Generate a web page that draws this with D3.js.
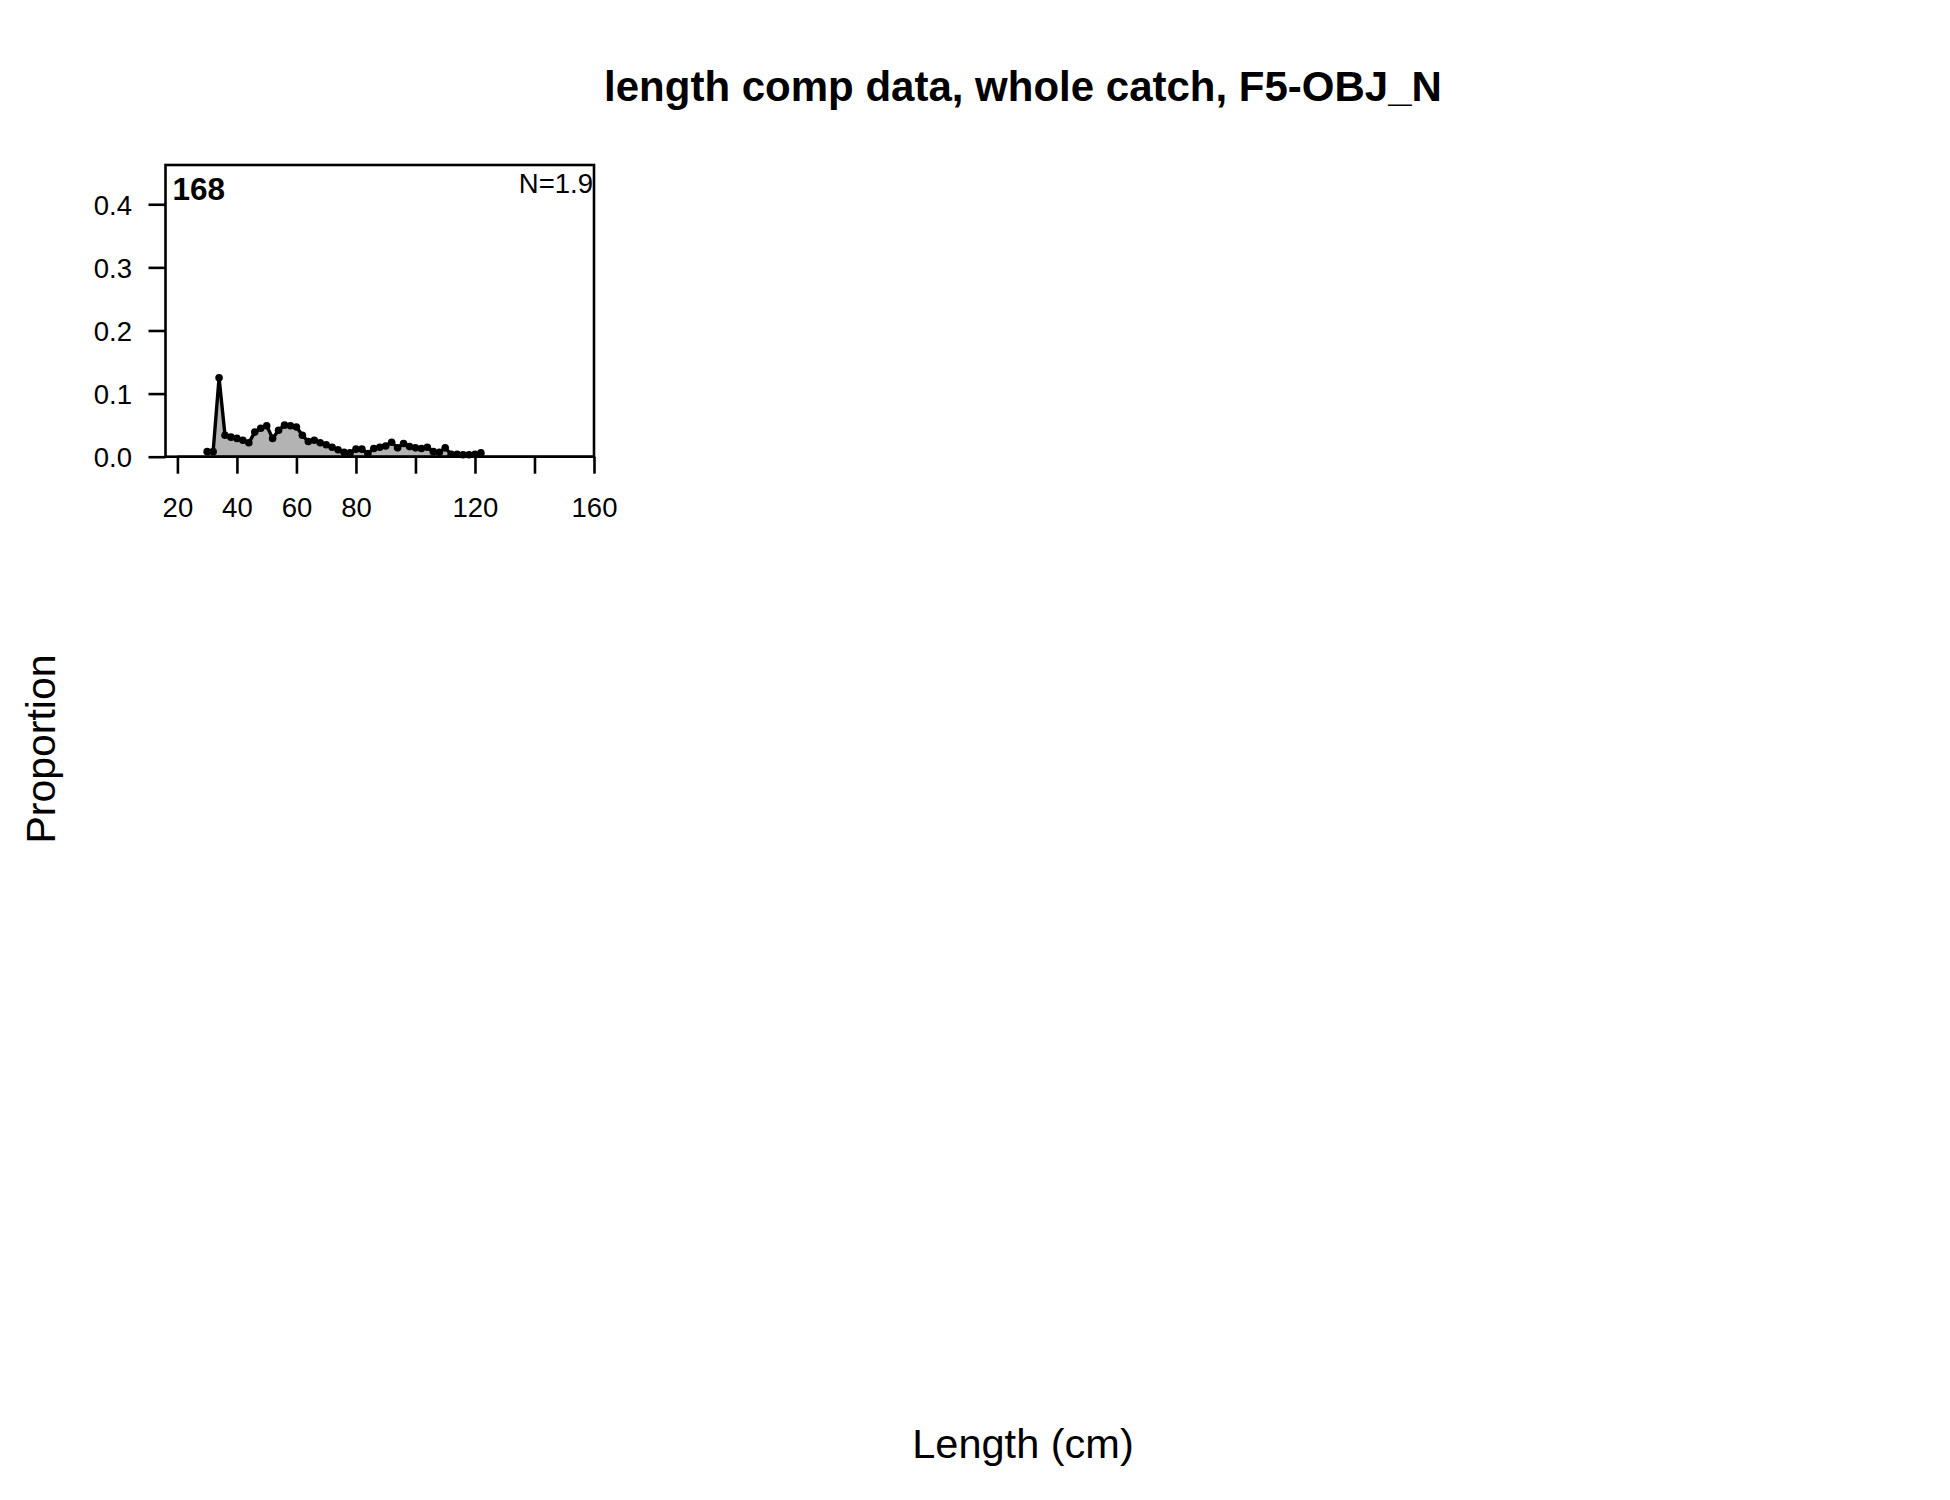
<!DOCTYPE html>
<html>
<head>
<meta charset="utf-8">
<script src="https://cdn.jsdelivr.net/npm/d3@7"></script>
<style>
  html, body { margin: 0; padding: 0; background: #fff; }
  text { font-family: "Liberation Sans", Arial, sans-serif; fill: #000; }
</style>
</head>
<body>
<svg id="chart" width="1950" height="1500"></svg>
<script>
// ---- data (2 cm length bins) ----
const lengths = [30, 32, 34, 36, 38, 40, 42, 44, 46, 48, 50, 52, 54, 56, 58, 60, 62, 64, 66, 68,
                 70, 72, 74, 76, 78, 80, 82, 84, 86, 88, 90, 92, 94, 96, 98, 100, 102, 104, 106, 108,
                 110, 112, 114, 116, 118, 120, 122];
const proportions = [0.008, 0.008, 0.125, 0.034, 0.031, 0.029, 0.026, 0.022, 0.039, 0.045,
                     0.049, 0.029, 0.042, 0.050, 0.049, 0.047, 0.034, 0.024, 0.026, 0.022,
                     0.019, 0.015, 0.011, 0.007, 0.006, 0.012, 0.012, 0.005, 0.013, 0.015,
                     0.017, 0.023, 0.014, 0.021, 0.016, 0.014, 0.013, 0.015, 0.008, 0.007,
                     0.014, 0.004, 0.004, 0.003, 0.003, 0.004, 0.006];
const xTicks = [20, 40, 60, 80, 100, 120, 140, 160];
const xTickLabels = [20, 40, 60, 80, 120, 160];
const yTicks = [0.0, 0.1, 0.2, 0.3, 0.4];
const titleText = "length comp data, whole catch, F5-OBJ_N";
const panelLabel = "168";
const nLabel = "N=1.9";
const xLabel = "Length (cm)";
const yLabel = "Proportion";

const data = lengths.map((L, i) => ({ L, p: proportions[i] }));

const svg = d3.select("#chart");
const box = { left: 165.5, right: 594, top: 165, bottom: 456.7 };

const x = d3.scaleLinear().domain([16, 160]).range([box.left, box.right]);
const y = d3.scaleLinear().domain([0, 0.4622]).range([box.bottom, box.top]);

// filled area
svg.append("path")
  .datum(data)
  .attr("fill", "#b3b3b3")
  .attr("stroke", "none")
  .attr("d", d3.area().x(d => x(d.L)).y0(y(0)).y1(d => y(d.p)));

// line
svg.append("path")
  .datum(data)
  .attr("fill", "none")
  .attr("stroke", "#000")
  .attr("stroke-width", 3.4)
  .attr("stroke-linejoin", "round")
  .attr("d", d3.line().x(d => x(d.L)).y(d => y(d.p)));

// points
svg.append("g").selectAll("circle")
  .data(data)
  .join("circle")
  .attr("cx", d => x(d.L))
  .attr("cy", d => y(d.p))
  .attr("r", 3.8)
  .attr("fill", "#000");

// box
svg.append("rect")
  .attr("x", box.left).attr("y", box.top)
  .attr("width", box.right - box.left).attr("height", box.bottom - box.top)
  .attr("fill", "none").attr("stroke", "#000").attr("stroke-width", 2.6);

// x axis
const xAxis = d3.axisBottom(x)
  .tickValues(xTicks)
  .tickSize(17)
  .tickPadding(25)
  .tickFormat(d => xTickLabels.includes(d) ? String(d) : "");
const gx = svg.append("g").attr("transform", `translate(0,${box.bottom})`).call(xAxis);
gx.select(".domain").attr("d", `M${x(20)},0H${x(160)}`).attr("stroke-width", 2.6);
gx.selectAll(".tick line").attr("stroke-width", 2.6);
gx.selectAll(".tick text")
  .attr("font-size", 27.5)
  .attr("font-family", "Liberation Sans, Arial, sans-serif")
  .attr("dy", null)
  .attr("y", 60);

// y axis
const yAxis = d3.axisLeft(y)
  .tickValues(yTicks)
  .tickSize(17)
  .tickPadding(17)
  .tickFormat(d3.format(".1f"));
const gy = svg.append("g").attr("transform", `translate(${box.left},0)`).call(yAxis);
gy.select(".domain").remove();
gy.selectAll(".tick line").attr("stroke-width", 2.6);
gy.selectAll(".tick text")
  .attr("font-size", 27.5)
  .attr("font-family", "Liberation Sans, Arial, sans-serif")
  .attr("dy", "0.36em")
  .attr("x", -33.5);

// panel labels
svg.append("text")
  .attr("x", 172.5).attr("y", 199.5)
  .attr("font-size", 31.5).attr("font-weight", "bold")
  .text(panelLabel);
svg.append("text")
  .attr("x", 593).attr("y", 192.5)
  .attr("text-anchor", "end")
  .attr("font-size", 27.5)
  .text(nLabel);

// title
svg.append("text")
  .attr("x", 1023).attr("y", 101)
  .attr("text-anchor", "middle")
  .attr("font-size", 42).attr("font-weight", "bold")
  .text(titleText);

// axis titles
svg.append("text")
  .attr("x", 1023).attr("y", 1457.5)
  .attr("text-anchor", "middle")
  .attr("font-size", 41.5)
  .text(xLabel);
svg.append("text")
  .attr("transform", "translate(55,749) rotate(-90)")
  .attr("text-anchor", "middle")
  .attr("font-size", 41)
  .text(yLabel);
</script>
</body>
</html>
